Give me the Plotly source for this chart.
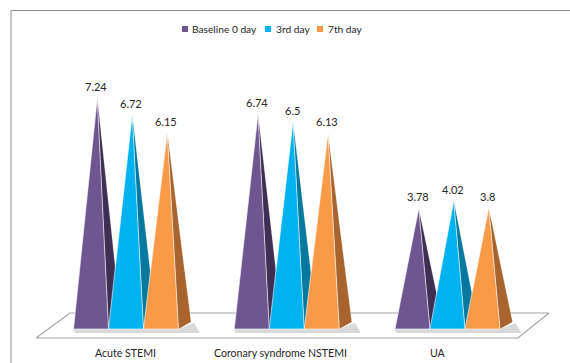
import plotly.graph_objects as go

# ---- data -------------------------------------------------------------
categories = ["Acute STEMI", "Coronary syndrome NSTEMI", "UA"]
series_names = ["Baseline 0 day", "3rd day", "7th day"]
baseline_0_day = [7.24, 6.74, 3.78]
day_3 = [6.72, 6.5, 4.02]
day_7 = [6.15, 6.13, 3.8]
series_values = [baseline_0_day, day_3, day_7]

# ---- styling ----------------------------------------------------------
front_colors = ["#6E5690", "#00B2F0", "#F99A48"]
side_colors = ["#3F2F55", "#04789E", "#A8642C"]
FONT_FAMILY = "Lato, 'Open Sans', sans-serif"
value_font = dict(family=FONT_FAMILY, size=11, color="#262626")
cat_font = dict(family=FONT_FAMILY, size=10.6, color="#262626")
legend_font = dict(family=FONT_FAMILY, size=10.2, color="#262626")

W, H = 570, 363
PX_X = 160.75          # pixels per category step
PX_Y = 31.9            # pixels per value unit
X0_PX, Y0_PX = 126, 329

x_range = [-X0_PX / PX_X, (W - X0_PX) / PX_X]
y_range = [-(H - Y0_PX) / PX_Y, Y0_PX / PX_Y]


def dx(px):
    return px / PX_X


def dy(px):
    return px / PX_Y


bar_w = dx(35)          # front face width
side_dx = dx(12.5)      # depth of the square base, projected
side_dy = dy(7)

fig = go.Figure()

# floor slab
floor_x = [dx(36 - X0_PX), dx(518 - X0_PX), dx(549 - X0_PX), dx(70 - X0_PX), dx(36 - X0_PX)]
floor_y = [dy(-9), dy(-9), dy(16), dy(16), dy(-9)]
fig.add_trace(go.Scatter(x=floor_x, y=floor_y, mode="lines", fill="toself",
                         fillcolor="white", line=dict(color="#A6A6A6", width=1.2),
                         hoverinfo="skip", showlegend=False))

# soft shadow under each cluster
for gi in range(len(categories)):
    left = gi - 1.5 * bar_w
    right = gi + 1.5 * bar_w
    sx = [left + dx(1), right + side_dx + dx(9), right + side_dx + dx(3), right, left, left + dx(1)]
    sy = [dy(-4), dy(-4), side_dy - dy(1), 0, 0, dy(-4)]
    fig.add_trace(go.Scatter(x=sx, y=sy, mode="lines", fill="toself",
                             fillcolor="rgba(120,120,120,0.28)", line=dict(width=0),
                             hoverinfo="skip", showlegend=False))

annotations = []

# pyramids: side face first, then the front face over it
for gi in range(len(categories)):
    for si, vals in enumerate(series_values):
        v = vals[gi]
        L = gi + (si - 1.5) * bar_w
        R = L + bar_w
        apex_x = (L + R) / 2 + side_dx / 2
        fig.add_trace(go.Scatter(
            x=[R, R + side_dx, apex_x, R], y=[0, side_dy, v, 0],
            mode="lines", fill="toself", fillcolor=side_colors[si],
            line=dict(color="rgba(255,255,255,0.25)", width=0.6),
            hoverinfo="skip", showlegend=False))
        fig.add_trace(go.Scatter(
            x=[L, R, apex_x, L], y=[0, 0, v, 0],
            mode="lines", fill="toself", fillcolor=front_colors[si],
            line=dict(color="rgba(255,255,255,0.75)", width=0.8),
            name=series_names[si], hoverinfo="skip", showlegend=False))
        # value label above the apex
        annotations.append(dict(x=apex_x, y=v, xref="x", yref="y", text=str(v),
                                showarrow=False, yanchor="bottom", yshift=3,
                                xshift=-1, font=value_font))

# category labels along the front of the floor
cat_shift = [-1, -6, -10]
for gi, name in enumerate(categories):
    annotations.append(dict(x=gi, y=dy(-24), xref="x", yref="y", text=name,
                            showarrow=False, xshift=cat_shift[gi], font=cat_font))

# legend row
legend_items = [(185, 190), (268, 274), (320, 326)]
shapes = [dict(type="rect", xref="paper", yref="paper", x0=11 / W, x1=1.02,
               y0=-0.05, y1=1 - 10.5 / H, line=dict(color="#8C8C8C", width=1))]
for (sq_x, txt_x), name, col in zip(legend_items, series_names, front_colors):
    shapes.append(dict(type="rect", xref="paper", yref="paper",
                       x0=(sq_x - 3) / W, x1=(sq_x + 3) / W,
                       y0=1 - 32 / H, y1=1 - 26 / H, fillcolor=col, line=dict(width=0)))
    annotations.append(dict(x=txt_x / W, y=1 - 29 / H, xref="paper", yref="paper",
                            xanchor="left", yanchor="middle", text=name, showarrow=False,
                            font=legend_font))

fig.update_layout(
    width=W, height=H,
    margin=dict(l=0, r=0, t=0, b=0),
    paper_bgcolor="white", plot_bgcolor="white",
    xaxis=dict(range=x_range, visible=False, fixedrange=True),
    yaxis=dict(range=y_range, visible=False, fixedrange=True),
    shapes=shapes, annotations=annotations, showlegend=False,
)

fig.write_html("out.html")
